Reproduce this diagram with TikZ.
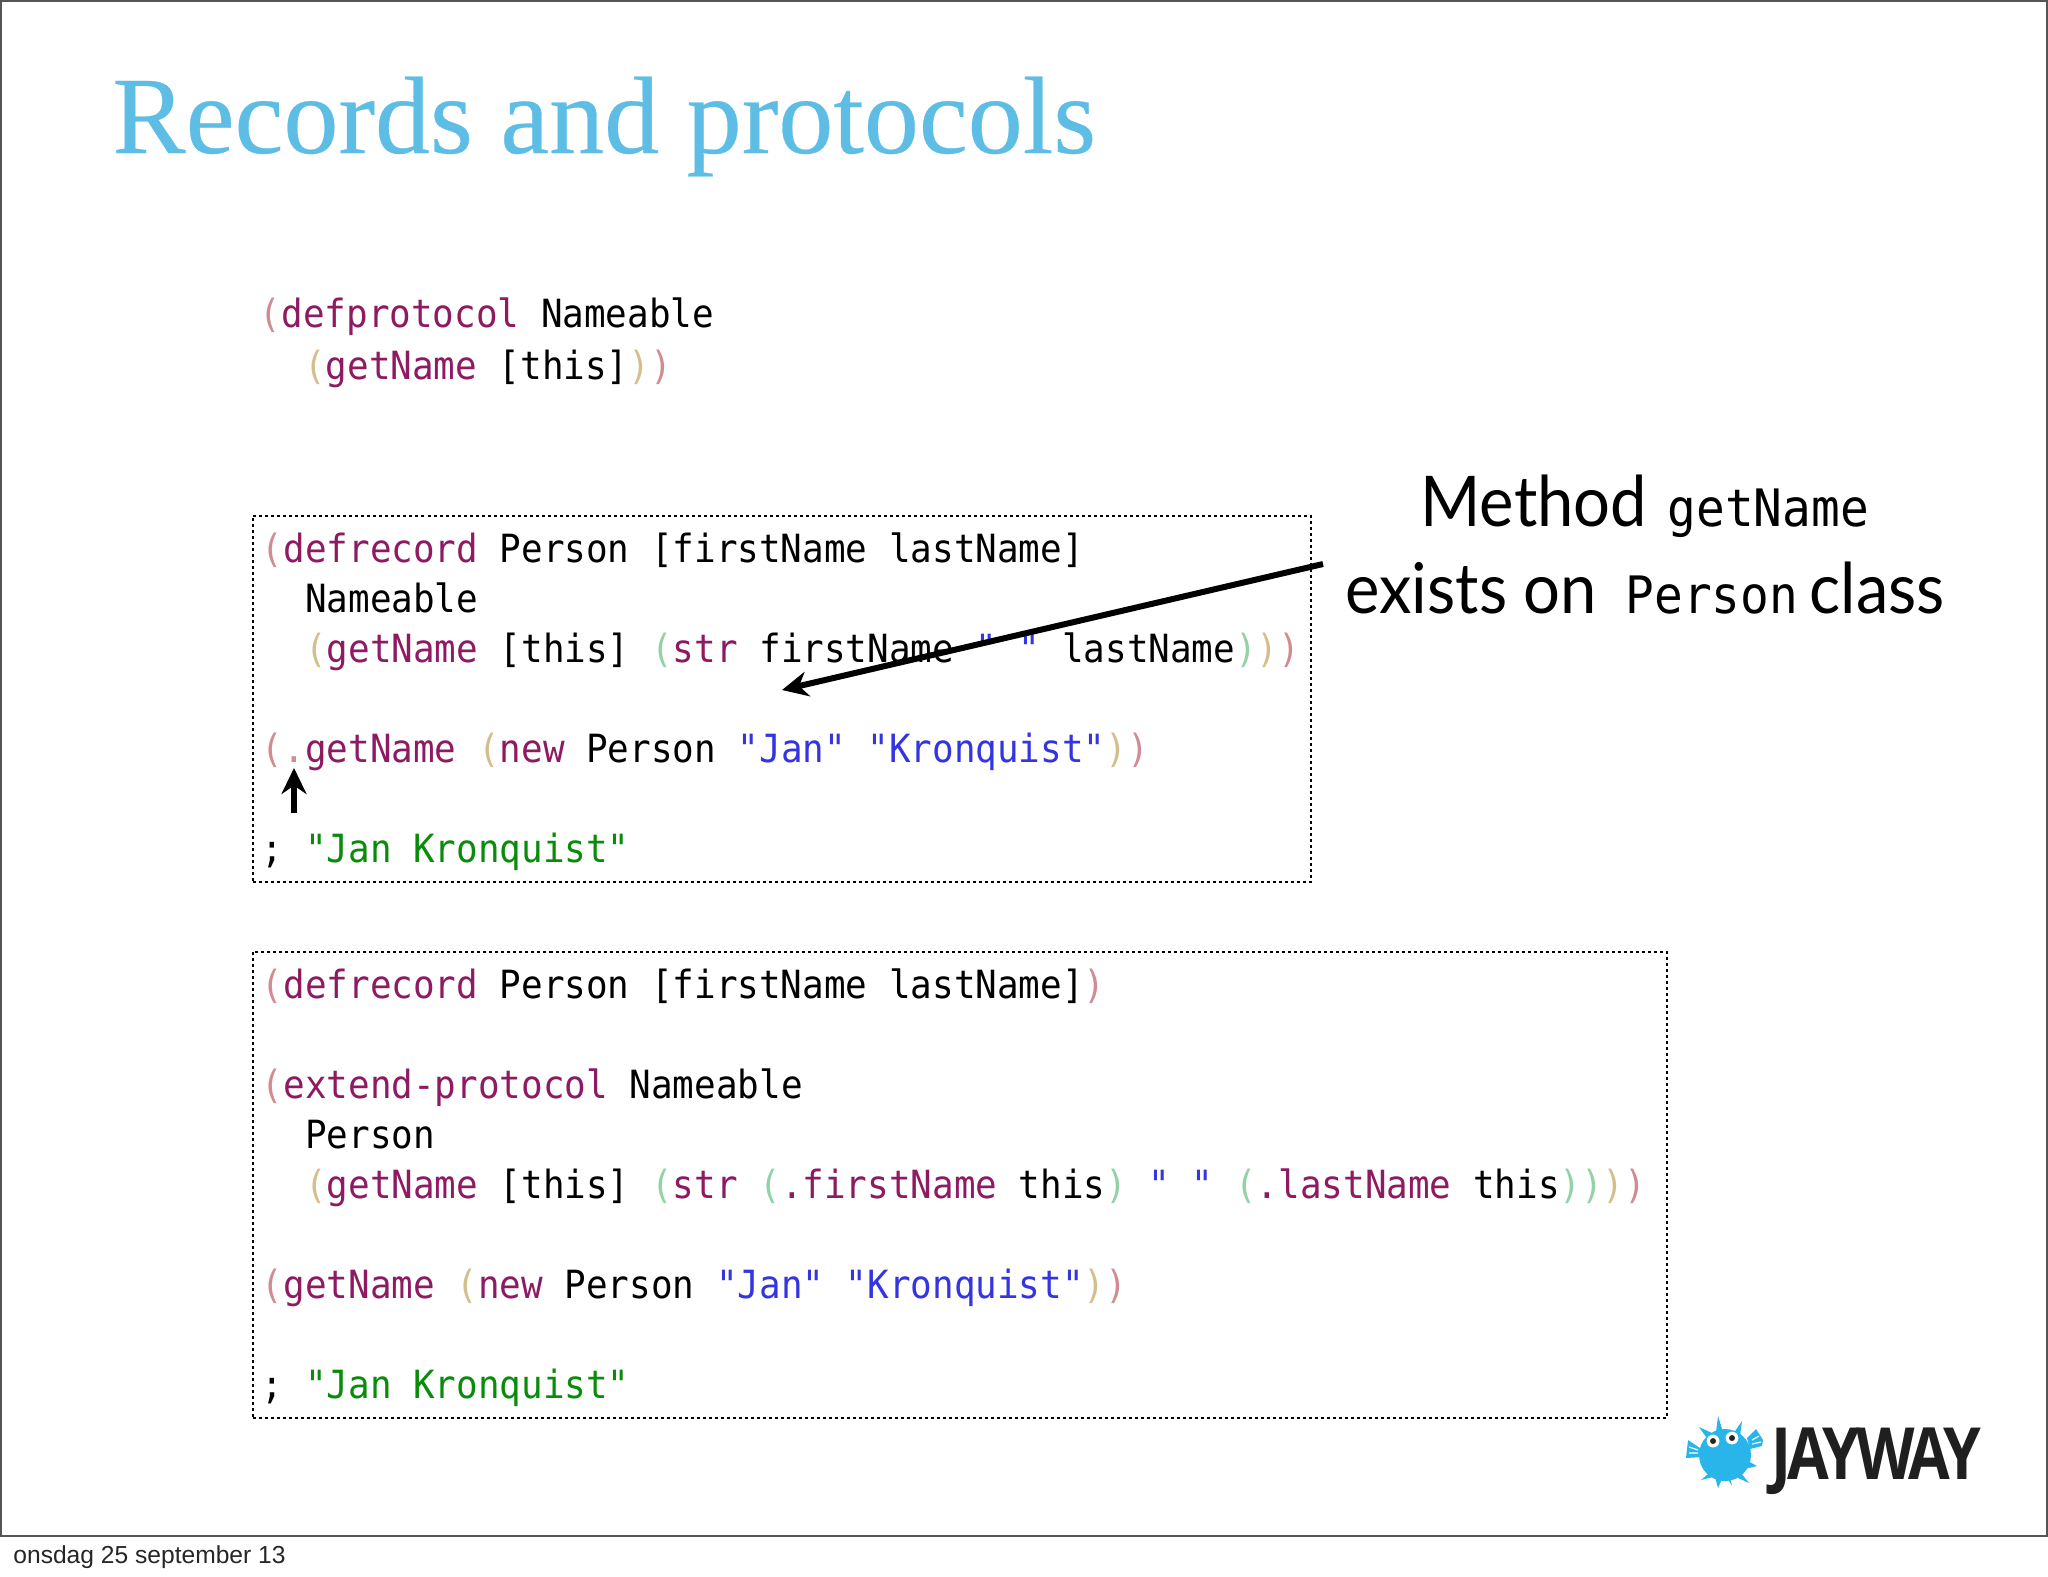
\documentclass[tikz,border=0pt]{standalone}
\usepackage{fontspec}
\setmainfont{Liberation Sans}
\newfontfamily\titlefont[FakeBold=0.25]{Liberation Serif}
\newfontfamily\codefont[FakeStretch=0.925]{DejaVu Sans Mono}
\newfontfamily\labelfont[FakeStretch=0.93]{Lato}
\newfontfamily\logofont[FakeStretch=0.84,LetterSpace=-5]{Open Sans}
\definecolor{pa}{HTML}{D08C92}
\definecolor{pb}{HTML}{D4BE8C}
\definecolor{pc}{HTML}{92D2A4}
\definecolor{kw}{HTML}{8E1A62}
\definecolor{st}{HTML}{3434E0}
\definecolor{cm}{HTML}{0A8C0A}
\definecolor{ttl}{HTML}{5DBDE5}
\definecolor{fish}{HTML}{29B4EA}
\definecolor{frm}{HTML}{555555}
\newcommand{\A}[1]{\textcolor{pa}{#1}}
\newcommand{\B}[1]{\textcolor{pb}{#1}}
\newcommand{\C}[1]{\textcolor{pc}{#1}}
\newcommand{\K}[1]{\textcolor{kw}{#1}}
\newcommand{\St}[1]{\textcolor{st}{#1}}
\newcommand{\Cm}[1]{\textcolor{cm}{#1}}
\usetikzlibrary{arrows.meta}
\tikzset{
 code/.style={anchor=base west,inner sep=0pt,font=\codefont\fontsize{19.42}{22}\selectfont},
 lab/.style={anchor=base west,inner sep=0pt,font=\labelfont\fontsize{35}{40}\selectfont},
 codebox/.style={draw,line width=1pt,dash pattern=on 1.5pt off 1.5pt,inner sep=0pt,anchor=north west},
 bigarrow/.style={-{Stealth[length=13pt,width=12.5pt]},line width=3pt},
 smallarrow/.style={-{Stealth[length=13pt,width=12.5pt]},line width=3pt},
 fin/.style={white,line width=0.6pt},
}
\newcommand{\lm}[1]{{\codefont\fontsize{25.8}{28}\selectfont #1}}
\begin{document}
\begin{tikzpicture}[x=0.5pt,y=-0.5pt]
\useasboundingbox (0,0) rectangle (2048,1576);
\draw[frm,line width=1pt] (0.5,0.5) rectangle (2047,1535.5);
\node[anchor=base west,inner sep=0pt,text=ttl,font=\titlefont\fontsize{55}{60}\selectfont] (title) at (112,153) {Records and protocols};
% first block
\node[code] (p1) at (259.5,327) {\A{(}\K{defprotocol} Nameable};
\node[code] (p2) at (260.5,379) {\ \ \B{(}\K{getName} [this]\B{)}\A{)}};
% box 1
\node[codebox,minimum width=529pt,minimum height=183pt] (box1) at (251.5,515) {};
\node[code] (a1) at (261.5,562) {\A{(}\K{defrecord} Person [firstName lastName]};
\node[code] (a2) at (261.5,612) {\ \ Nameable};
\node[code] (a3) at (261.5,662) {\ \ \B{(}\K{getName} [this] \C{(}\K{str} firstName \St{" "} lastName\C{)}\B{)}\A{)}};
\node[code] (a4) at (261.5,762) {\A{(.}\K{getName} \B{(}\K{new} Person \St{"Jan" "Kronquist"}\B{)}\A{)}};
\node[code] (a5) at (261.5,862) {; \Cm{"Jan Kronquist"}};
% box 2
\node[codebox,minimum width=707pt,minimum height=233pt] (box2) at (251.5,951) {};
\node[code] (b1) at (261.5,998) {\A{(}\K{defrecord} Person [firstName lastName]\A{)}};
\node[code] (b2) at (261.5,1098) {\A{(}\K{extend-protocol} Nameable};
\node[code] (b3) at (261.5,1148) {\ \ Person};
\node[code] (b4) at (261.5,1198) {\ \ \B{(}\K{getName} [this] \C{(}\K{str} \C{(}\K{.firstName} this\C{)} \St{" "} \C{(}\K{.lastName} this\C{)}\C{)}\B{)}\A{)}};
\node[code] (b5) at (261.5,1298) {\A{(}\K{getName} \B{(}\K{new} Person \St{"Jan" "Kronquist"}\B{)}\A{)}};
\node[code] (b6) at (261.5,1398) {; \Cm{"Jan Kronquist"}};
% label
\node[lab] (l1) at (1420,526) {Method\hspace{2pt} \lm{getName}};
\node[lab] (l2) at (1345,613) {exists on\hspace{6pt} \lm{Person}\hspace{-2.5pt} class};
% arrows
\coordinate (s1) at (1323,564);
\coordinate (e1) at (782,690);
\coordinate (s2) at (294,813);
\coordinate (e2) at (294,768);
\draw[bigarrow] (s1) -- (e1);
\draw[smallarrow] (s2) -- (e2);
% logo
\node[anchor=base west,inner sep=0pt,text=black!88,font=\logofont\bfseries\fontsize{36}{40}\selectfont] (logo) at (1771,1479) {JAYWAY};
\fill[fish] (1725,1455) circle (26);
\fill[fish] (1712,1433)--(1699,1427)--(1706,1437)--cycle;
\fill[fish] (1716,1432)--(1718,1416)--(1723,1432)--cycle;
\fill[fish] (1733,1434)--(1742,1421)--(1740,1436)--cycle;
\fill[fish] (1748,1461)--(1757,1466)--(1745,1469)--cycle;
\fill[fish] (1741,1473)--(1749,1483)--(1736,1477)--cycle;
\fill[fish] (1730,1478)--(1732,1486)--(1727,1478)--cycle;
\fill[fish] (1722,1479)--(1718,1488)--(1715,1477)--cycle;
\fill[fish] (1708,1474)--(1701,1480)--(1713,1477)--cycle;
\fill[fish] (1688,1440)--(1703,1450)--(1702,1457)--(1686,1458)--cycle;
\fill[fish] (1756,1429)--(1763,1440)--(1762,1446)--(1750,1449)--(1747,1438)--cycle;
\draw[fin] (1689,1447)--(1698,1450) (1689,1453)--(1698,1453);
\draw[fin] (1759,1436)--(1752,1440) (1761,1442)--(1752,1444);
\fill[white] (1713,1441) circle (6.4);
\fill[white] (1732,1438) circle (6.4);
\fill[black!85] (1713,1441) circle (3);
\fill[black!85] (1732,1438) circle (3);
% date
\node[anchor=base west,inner sep=0pt,font=\fontsize{12.3}{14}\selectfont,text=black!85] (date) at (13,1563) {onsdag 25 september 13};
\end{tikzpicture}
\end{document}
